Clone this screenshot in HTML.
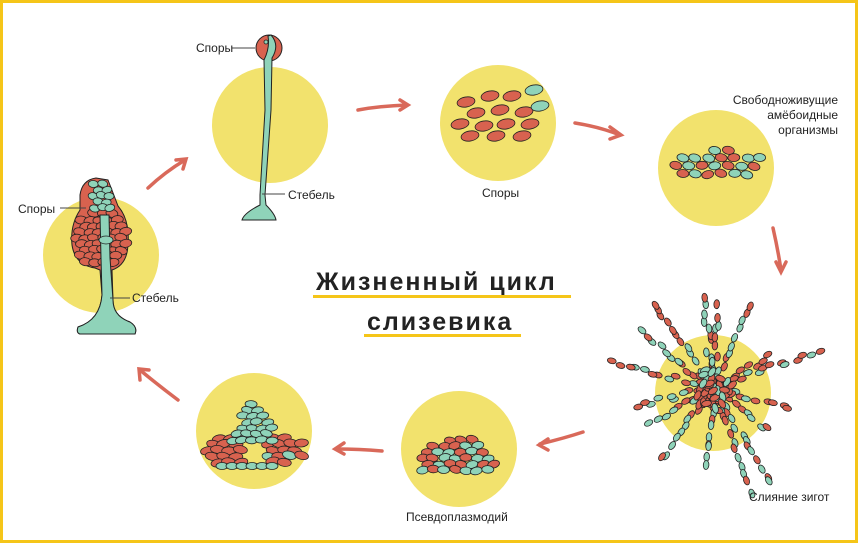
<!DOCTYPE html>
<html><head><meta charset="utf-8"><style>
html,body{margin:0;padding:0;background:#fff}
svg{display:block}
text{font-family:"Liberation Sans",sans-serif}
.l{font-size:12px;fill:#222}
.t{font-size:25px;font-weight:bold;fill:#222;letter-spacing:2px}
</style></head><body>
<svg id="s" width="859" height="544" viewBox="0 0 859 544" xmlns="http://www.w3.org/2000/svg">
<rect x="1.5" y="1.5" width="855" height="540" fill="#fff" stroke="#f5c518" stroke-width="3"/>
<g fill="#f2e26d">
<circle cx="101" cy="255" r="58"/>
<circle cx="270" cy="125" r="58"/>
<circle cx="498" cy="123" r="58"/>
<circle cx="716" cy="168" r="58"/>
<circle cx="713" cy="393" r="58"/>
<circle cx="459" cy="449" r="58"/>
<circle cx="254" cy="431" r="58"/>
</g>
<g fill="none" stroke="#d9695a" stroke-width="3.5" stroke-linecap="round">
<path d="M148 188 Q165 172 185 160"/><path d="M176 160 L186 159 L183 169"/>
<path d="M358 110 Q380 106 407 105"/><path d="M400 100 L408 105 L400 110"/>
<path d="M575 123 Q600 127 620 135"/><path d="M610 127 L621 135 L610 139"/>
<path d="M773 228 Q778 250 781 270"/><path d="M776 262 L781 272 L786 262"/>
<path d="M583 432 Q565 438 540 444"/><path d="M548 439 L539 445 L548 450"/>
<path d="M382 451 Q360 449 336 449"/><path d="M344 443 L335 449 L344 454"/>
<path d="M178 400 Q158 385 140 370"/><path d="M140 380 L139 369 L149 370"/>
</g>
<!-- fruiting body 1 base -->
<path d="M96 178 Q82 180 80 195 L80 210 Q70 225 72 245 Q75 265 95 268 L100 270 L102 295 Q100 320 78 327 Q76 333 80 334 L135 334 Q138 327 130 322 Q113 316 113 300 L112 270 Q127 265 128 245 Q130 220 118 206 Q112 190 108 180 Z" fill="#d8624f" stroke="#222" stroke-width="1"/>
<g id="clusters"></g>
<path d="M100 215 L101 258 L102 295 Q100 320 78 327 Q76 333 80 334 L135 334 Q138 327 130 322 Q113 316 113 300 L110 258 L109 215 Z" fill="#8fd3b9" stroke="#222" stroke-width="1"/>
<ellipse cx="106" cy="240" rx="7" ry="4" fill="#8fd3b9" stroke="#222" stroke-width=".8"/>
<!-- stalk 2 -->
<circle cx="269" cy="48" r="13" fill="#d8624f" stroke="#222" stroke-width="1"/>
<circle cx="266" cy="42" r="2" fill="#8fd3b9" stroke="#222" stroke-width=".8"/>
<path d="M271 35 Q280 45 272 58 L271 110 L265 195 L266 205 Q275 214 276 220 L242 220 Q244 213 260 205 L260 195 L265 110 L264 60 Q270 48 268 36 Z" fill="#8fd3b9" stroke="#222" stroke-width="1"/>
<line x1="60" y1="208" x2="86" y2="208" stroke="#444"/>
<line x1="110" y1="298" x2="130" y2="298" stroke="#444"/>
<line x1="232" y1="48" x2="255" y2="48" stroke="#444"/>
<line x1="262" y1="194" x2="285" y2="194" stroke="#444"/>
<text class="l" x="18" y="213">Споры</text>
<text class="l" x="132" y="302">Стебель</text>
<text class="l" x="196" y="52">Споры</text>
<text class="l" x="288" y="199">Стебель</text>
<text class="l" x="482" y="197">Споры</text>
<text class="l" x="838" y="104" text-anchor="end">Свободноживущие</text>
<text class="l" x="838" y="119" text-anchor="end">амёбоидные</text>
<text class="l" x="838" y="134" text-anchor="end">организмы</text>
<text class="l" x="749" y="501">Слияние зигот</text>
<text class="l" x="406" y="521">Псевдоплазмодий</text>
<text class="t" x="316" y="290">Жизненный цикл</text>
<rect x="313" y="295" width="258" height="3" fill="#f5c518"/>
<text class="t" x="367" y="330">слизевика</text>
<rect x="364" y="334" width="157" height="3" fill="#f5c518"/>
</svg>
<script>
var seed=7;function r(){seed=(seed*16807)%2147483647;return seed/2147483647;}
var g=document.getElementById('clusters'),NS='http://www.w3.org/2000/svg';
function e(x,y,rx,ry,a,c){var el=document.createElementNS(NS,'ellipse');el.setAttribute('cx',x.toFixed(1));el.setAttribute('cy',y.toFixed(1));el.setAttribute('rx',rx);el.setAttribute('ry',ry);el.setAttribute('transform','rotate('+a.toFixed(0)+' '+x.toFixed(1)+' '+y.toFixed(1)+')');el.setAttribute('fill',c);el.setAttribute('stroke','#222');el.setAttribute('stroke-width','0.8');g.appendChild(el);}
var R='#d8624f',T='#8fd3b9';
function grid(x0,y0,x1,y1,dx,dy,test,rx,ry,col){for(var y=y0;y<=y1;y+=dy){var off=((y-y0)/dy)%2?dx/2:0;for(var x=x0+off;x<=x1;x+=dx){var xx=x+r()*2-1,yy=y+r()*2-1;var c=test(xx,yy);if(c)e(xx,yy,rx,ry,r()*30-15,col?col(xx,yy):(r()<.5?R:T));}}}
// spores
[[466,102,R],[490,96,R],[512,96,R],[534,90,T],[476,113,R],[500,110,R],[524,112,R],[540,106,T],[460,124,R],[484,126,R],[506,124,R],[530,124,R],[470,136,R],[496,136,R],[522,136,R]].forEach(function(p){e(p[0],p[1],9,5,-10,p[2]);});
// amoebae
grid(676,150,764,180,13,8,function(x,y){var dx=(x-720)/46,dy=(y-166)/17;return dx*dx+dy*dy<1;},6,4);
// zygote burst
for(var k=0;k<16;k++){var ang=k/16*6.283+r()*.3;var len=70+r()*45;for(var d=8;d<len;d+=6+r()*4){e(713+Math.cos(ang)*d+r()*6-3,388+Math.sin(ang)*d+r()*6-3,4.5,2.8,ang*57.3,r()<.6?R:T);}}
for(var i=0;i<60;i++){var a=r()*6.283,d=r()*22;e(713+Math.cos(a)*d,390+Math.sin(a)*d,5,3,r()*180,r()<.8?R:T);}
// pseudoplasmodium
grid(422,434,498,470,11,6,function(x,y){var h=Math.abs(x-459)/39;return h<1&&y>434+h*h*24;},6,3.8);
// sorocarp stage 7 (side masses)
grid(202,432,306,466,11,6,function(x,y){if(Math.abs(x-254)<10)return false;var dx=(x-254)/52,dy=(y-450)/18;return dx*dx+dy*dy<1;},7,4,function(){return r()<.92?R:T;});
grid(232,404,276,440,10,6,function(x,y){return Math.abs(x-254)<(y-400)*0.6+3;},6,3.5,function(){return T;});
for(var i=0;i<6;i++){e(222+i*10,466,6,3.5,0,T);}
// fruiting body 1
grid(76,214,126,266,9,6,function(x,y){var dx=(x-101)/26,dy=(y-238)/30;return dx*dx+dy*dy<1;},6,4,function(){return R;});
grid(86,184,114,212,8,6,function(x,y){return Math.abs(x-100)<12-(212-y)*0.15;},5,3.5,function(){return T;});
</script>
</body></html>
